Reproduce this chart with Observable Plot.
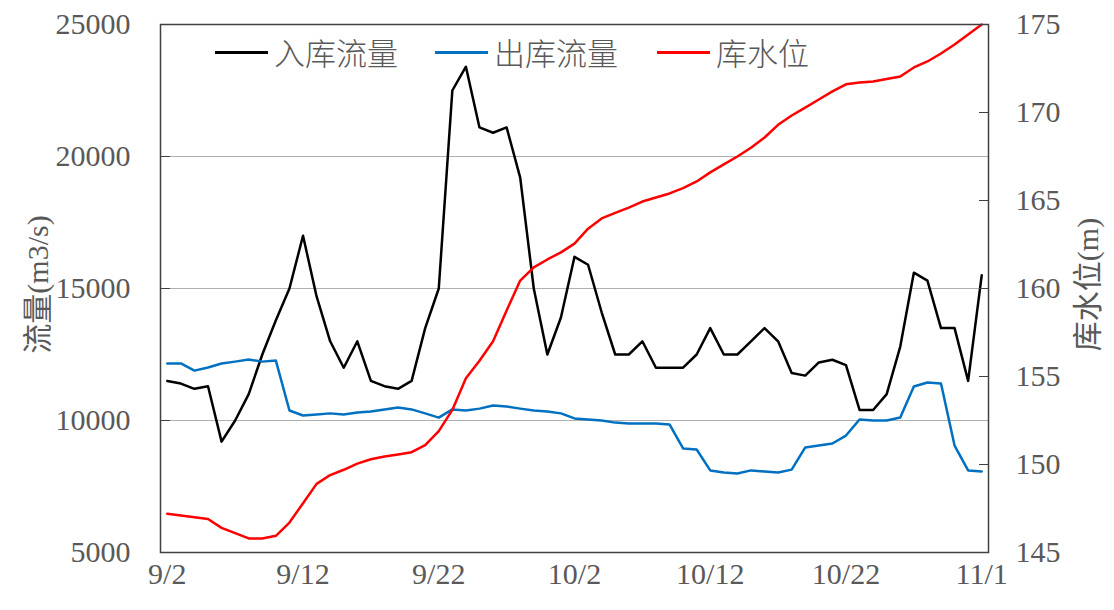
<!DOCTYPE html>
<html>
<head>
<meta charset="utf-8">
<script src="https://cdn.jsdelivr.net/npm/d3@7"></script>
<script src="https://cdn.jsdelivr.net/npm/@observablehq/plot@0.6"></script>
<style>
  html, body { margin: 0; padding: 0; background: #ffffff; }
  #wrap { position: relative; width: 1114px; height: 610px; }
  #legend {
    position: absolute; left: 215px; top: 34px;
    display: flex; align-items: center;
    font-family: "Noto Sans CJK SC", sans-serif; font-weight: 300;
    font-size: 31px; line-height: 36px; color: #595959;
  }
  #legend .item { display: flex; align-items: center; }
  #legend .sw { width: 53px; height: 0; border-top: 3px solid; margin-right: 6px; }
</style>
</head>
<body>
<div id="wrap"><div id="legend"></div></div>
<script>
// ---- data (daily, 61 days) ----
const startDay = new Date(2016, 8, 2);
const dates = d3.timeDay.range(startDay, d3.timeDay.offset(startDay, 61)).map(d3.timeFormat("%Y-%m-%d"));

const inflow = [
  11500, 11400, 11200, 11300, 9200, 10000, 11000, 12500, 13800, 15000,
  17000, 14700, 13000, 12000, 13000, 11500, 11300, 11200, 11500, 13500,
  15000, 22500, 23400, 21100, 20900, 21100, 19200, 15000, 12500, 13900,
  16200, 15900, 14100, 12500, 12500, 13000, 12000, 12000, 12000, 12500,
  13500, 12500, 12500, 13000, 13500, 13000, 11800, 11700, 12200, 12300,
  12100, 10400, 10400, 11000, 12800, 15600, 15300, 13500, 13500, 11500,
  15500
];
const outflow = [
  12160, 12160, 11890, 12010, 12160, 12230, 12310, 12230, 12270, 10380,
  10190, 10230, 10270, 10230, 10300, 10340, 10420, 10490, 10420, 10270,
  10110, 10420, 10380, 10450, 10570, 10530, 10450, 10380, 10340, 10270,
  10080, 10040, 10000, 9920, 9890, 9890, 9890, 9850, 8940, 8900,
  8110, 8030, 7990, 8110, 8070, 8030, 8140, 8980, 9050, 9130,
  9430, 10040, 10000, 10000, 10110, 11290, 11440, 11400, 9050, 8110,
  8070
];
const level = [
  147.2, 147.1, 147.0, 146.9, 146.4, 146.1, 145.8, 145.8, 145.95, 146.7,
  147.8, 148.9, 149.4, 149.7, 150.05, 150.3, 150.45, 150.57, 150.7, 151.1,
  151.9, 153.1, 154.9, 155.9, 157.0, 158.75, 160.45, 161.2, 161.65, 162.05,
  162.55, 163.4, 163.98, 164.3, 164.6, 164.94, 165.17, 165.4, 165.7, 166.08,
  166.6, 167.05, 167.5, 168.0, 168.58, 169.3, 169.83, 170.28, 170.74, 171.2,
  171.6, 171.7, 171.76, 171.9, 172.05, 172.56, 172.9, 173.35, 173.86, 174.43,
  175.0
];

const flowTicks = [5000, 10000, 15000, 20000, 25000];
const levelTicks = [145, 150, 155, 160, 165, 170, 175];
const dateTicks = dates.filter((d, i) => i % 10 === 0);
const seriesNames = ["入库流量", "出库流量", "库水位"];
const seriesColors = ["#000000", "#0070C0", "#FF0000"];
const yTitleLeft = "流量(m3/s)";
const yTitleRight = "库水位(m)";

// secondary axis mapping (level -> primary flow scale)
const flowDomain = [flowTicks[0], flowTicks[flowTicks.length - 1]];
const levelDomain = [levelTicks[0], levelTicks[levelTicks.length - 1]];
const toFlow = d3.scaleLinear().domain(levelDomain).range(flowDomain);

const rows = dates.map((d, i) => ({date: d, inflow: inflow[i], outflow: outflow[i], level: level[i]}));
const parse = d3.timeParse("%Y-%m-%d");
const fmtDate = d3.timeFormat("%-m/%-d");

const font = "'Liberation Serif', 'Times New Roman', 'Noto Sans CJK SC', serif";
const textColor = "#595959";
const axisColor = "#404040";

const chart = Plot.plot({
  width: 1114,
  height: 610,
  marginLeft: 160,
  marginRight: 126,
  marginTop: 24,
  marginBottom: 58,
  style: {fontFamily: font, fontSize: "30px", color: textColor, background: "#ffffff", overflow: "visible"},
  x: {type: "point", domain: dates, padding: 0.5},
  y: {domain: flowDomain},
  marks: [
    Plot.gridY(flowTicks.slice(1, -1), {stroke: "#b0b0b0", strokeOpacity: 1, strokeWidth: 1}),
    Plot.lineY(rows, {x: "date", y: "inflow", stroke: seriesColors[0], strokeWidth: 2.5}),
    Plot.lineY(rows, {x: "date", y: "outflow", stroke: seriesColors[1], strokeWidth: 2.5}),
    Plot.lineY(rows, {x: "date", y: (d) => toFlow(d.level), stroke: seriesColors[2], strokeWidth: 2.5}),
    Plot.frame({stroke: axisColor, strokeWidth: 1.5}),
    Plot.axisY({anchor: "left", ticks: flowTicks, tickSize: -10, tickPadding: 40, stroke: axisColor,
      fill: textColor, fontSize: 30, label: null, tickFormat: (d) => String(d)}),
    Plot.axisY({anchor: "right", ticks: levelTicks.map(toFlow), tickSize: -10, tickPadding: 37, stroke: axisColor,
      fill: textColor, fontSize: 30, label: null, tickFormat: (d) => String(Math.round(toFlow.invert(d)))}),
    Plot.axisX({ticks: dateTicks, tickSize: 0, tickPadding: 10, fill: textColor, fontSize: 30, label: null,
      tickFormat: (d) => fmtDate(parse(d))}),
    Plot.text([yTitleLeft], {frameAnchor: "left", dx: -122, dy: -4, rotate: -90, textAnchor: "middle",
      lineAnchor: "middle", fill: textColor, fontSize: 30}),
    Plot.text([yTitleRight], {frameAnchor: "right", dx: 100, dy: -4, rotate: -90, textAnchor: "middle",
      lineAnchor: "middle", fill: textColor, fontSize: 30})
  ]
});

const wrap = document.getElementById("wrap");
wrap.insertBefore(chart, wrap.firstChild);

const legend = document.getElementById("legend");
const gaps = [37, 39, 0];
seriesNames.forEach((name, i) => {
  const item = document.createElement("div");
  item.className = "item";
  item.style.marginRight = gaps[i] + "px";
  const sw = document.createElement("div");
  sw.className = "sw";
  sw.style.borderTopColor = seriesColors[i];
  const label = document.createElement("span");
  label.textContent = name;
  item.appendChild(sw);
  item.appendChild(label);
  legend.appendChild(item);
});
</script>
</body>
</html>
